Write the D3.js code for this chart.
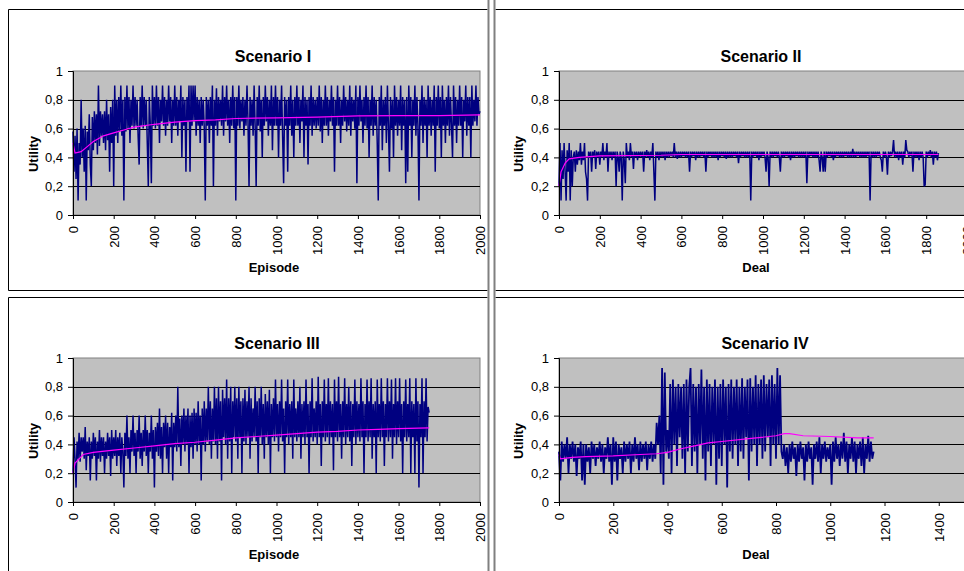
<!DOCTYPE html>
<html>
<head>
<meta charset="utf-8">
<script src="https://cdn.jsdelivr.net/npm/d3@7"></script>
<style>
  body { margin: 0; background: #fff; }
  svg { display: block; font-family: Arial, "Liberation Sans", sans-serif; }
</style>
</head>
<body>
<script>
// values, one point per 5 episodes / deals
const yTicks = [0, 0.2, 0.4, 0.6, 0.8, 1];
const gridTicks = [0.2, 0.4, 0.6, 0.8];
const xTicks2000 = [0, 200, 400, 600, 800, 1000, 1200, 1400, 1600, 1800, 2000];
const xTicks1600 = [0, 200, 400, 600, 800, 1000, 1200, 1400, 1600];
const titles = ["Scenario I", "Scenario II", "Scenario III", "Scenario IV"];
const xTitles = ["Episode", "Deal", "Episode", "Deal"];
const step = 5;

const utility1 = [
  0.58, 0.30, 0.55, 0.25, 0.60, 0.10, 0.50, 0.35, 0.80, 0.40,
  0.60, 0.30, 0.62, 0.10, 0.58, 0.45, 0.70, 0.35, 0.20, 0.68,
  0.45, 0.72, 0.50, 0.70, 0.42, 0.90, 0.48, 0.72, 0.55, 0.70,
  0.50, 0.72, 0.45, 0.80, 0.52, 0.70, 0.30, 0.75, 0.50, 0.80,
  0.20, 0.90, 0.55, 0.80, 0.50, 0.82, 0.58, 0.90, 0.55, 0.80,
  0.10, 0.82, 0.58, 0.90, 0.60, 0.82, 0.50, 0.80, 0.62, 0.90,
  0.60, 0.82, 0.62, 0.80, 0.55, 0.35, 0.82, 0.62, 0.90, 0.60,
  0.82, 0.62, 0.80, 0.50, 0.20, 0.82, 0.62, 0.22, 0.90, 0.62,
  0.82, 0.60, 0.90, 0.62, 0.82, 0.50, 0.80, 0.65, 0.90, 0.62,
  0.82, 0.55, 0.80, 0.62, 0.90, 0.65, 0.82, 0.50, 0.80, 0.62,
  0.90, 0.62, 0.82, 0.55, 0.80, 0.65, 0.90, 0.40, 0.82, 0.62,
  0.80, 0.30, 0.82, 0.65, 0.90, 0.30, 0.90, 0.62, 0.90, 0.65,
  0.90, 0.55, 0.82, 0.62, 0.80, 0.50, 0.82, 0.62, 0.80, 0.60,
  0.10, 0.82, 0.62, 0.80, 0.50, 0.82, 0.62, 0.90, 0.20, 0.80,
  0.62, 0.88, 0.55, 0.82, 0.65, 0.80, 0.62, 0.90, 0.55, 0.82,
  0.65, 0.90, 0.62, 0.80, 0.50, 0.82, 0.62, 0.90, 0.60, 0.82,
  0.10, 0.82, 0.62, 0.90, 0.60, 0.80, 0.65, 0.82, 0.55, 0.80,
  0.62, 0.90, 0.65, 0.20, 0.82, 0.62, 0.80, 0.55, 0.90, 0.62,
  0.20, 0.82, 0.62, 0.90, 0.58, 0.80, 0.40, 0.82, 0.62, 0.90,
  0.65, 0.82, 0.55, 0.80, 0.62, 0.90, 0.45, 0.82, 0.62, 0.90,
  0.62, 0.82, 0.40, 0.80, 0.62, 0.90, 0.55, 0.22, 0.82, 0.62,
  0.80, 0.30, 0.82, 0.62, 0.90, 0.55, 0.80, 0.40, 0.82, 0.62,
  0.90, 0.62, 0.82, 0.50, 0.80, 0.65, 0.90, 0.40, 0.82, 0.62,
  0.80, 0.35, 0.82, 0.62, 0.90, 0.55, 0.82, 0.62, 0.80, 0.60,
  0.82, 0.62, 0.90, 0.58, 0.82, 0.50, 0.80, 0.62, 0.90, 0.62,
  0.82, 0.55, 0.80, 0.65, 0.90, 0.62, 0.82, 0.30, 0.80, 0.62,
  0.90, 0.62, 0.82, 0.50, 0.80, 0.62, 0.90, 0.65, 0.82, 0.58,
  0.80, 0.62, 0.90, 0.55, 0.82, 0.65, 0.80, 0.60, 0.90, 0.22,
  0.82, 0.62, 0.90, 0.65, 0.80, 0.50, 0.82, 0.62, 0.90, 0.60,
  0.82, 0.40, 0.80, 0.62, 0.90, 0.55, 0.82, 0.62, 0.80, 0.50,
  0.10, 0.82, 0.62, 0.90, 0.45, 0.80, 0.62, 0.82, 0.50, 0.90,
  0.62, 0.30, 0.82, 0.60, 0.80, 0.40, 0.90, 0.62, 0.82, 0.55,
  0.80, 0.62, 0.90, 0.45, 0.82, 0.62, 0.80, 0.22, 0.82, 0.30,
  0.90, 0.62, 0.82, 0.40, 0.80, 0.62, 0.90, 0.55, 0.82, 0.62,
  0.10, 0.80, 0.62, 0.90, 0.50, 0.82, 0.62, 0.80, 0.40, 0.90,
  0.62, 0.82, 0.55, 0.80, 0.62, 0.90, 0.30, 0.82, 0.62, 0.90,
  0.60, 0.82, 0.40, 0.90, 0.62, 0.80, 0.50, 0.82, 0.62, 0.90,
  0.55, 0.82, 0.62, 0.40, 0.90, 0.62, 0.82, 0.50, 0.80, 0.62,
  0.90, 0.62, 0.82, 0.40, 0.80, 0.65, 0.90, 0.55, 0.82, 0.62,
  0.82, 0.40, 0.90, 0.62, 0.80, 0.65, 0.90, 0.62, 0.82, 0.70,
  0.72
];
const avgX1 = [0, 10, 40, 70, 100, 150, 200, 250, 300, 400, 500, 600, 700, 800, 1000, 1200, 1400, 1600, 1800, 2000];
const avg1 = [0.50, 0.43, 0.44, 0.475, 0.51, 0.55, 0.57, 0.59, 0.61, 0.63, 0.645, 0.655, 0.66, 0.67, 0.675, 0.68, 0.688, 0.69, 0.69, 0.695];

const utility2 = [
  0.20, 0.50, 0.10, 0.45, 0.25, 0.50, 0.30, 0.10, 0.45, 0.30,
  0.50, 0.10, 0.45, 0.20, 0.40, 0.44, 0.30, 0.45, 0.35, 0.44,
  0.38, 0.50, 0.35, 0.44, 0.38, 0.50, 0.30, 0.25, 0.10, 0.44,
  0.40, 0.44, 0.30, 0.44, 0.40, 0.45, 0.32, 0.44, 0.40, 0.44,
  0.35, 0.44, 0.40, 0.50, 0.38, 0.44, 0.40, 0.50, 0.30, 0.44,
  0.40, 0.44, 0.38, 0.44, 0.40, 0.44, 0.20, 0.44, 0.40, 0.30,
  0.44, 0.40, 0.10, 0.44, 0.38, 0.22, 0.50, 0.40, 0.44, 0.38,
  0.50, 0.40, 0.44, 0.32, 0.44, 0.40, 0.44, 0.38, 0.44, 0.40,
  0.44, 0.40, 0.44, 0.30, 0.44, 0.40, 0.45, 0.40, 0.44, 0.38,
  0.44, 0.40, 0.50, 0.30, 0.10, 0.44, 0.40, 0.44, 0.38, 0.44,
  0.40, 0.44, 0.40, 0.44, 0.38, 0.44, 0.40, 0.44, 0.40, 0.44,
  0.41, 0.44, 0.40, 0.50, 0.40, 0.44, 0.39, 0.44, 0.40, 0.44,
  0.40, 0.44, 0.41, 0.44, 0.40, 0.44, 0.40, 0.44, 0.30, 0.44,
  0.40, 0.44, 0.41, 0.44, 0.38, 0.44, 0.40, 0.44, 0.40, 0.44,
  0.41, 0.44, 0.40, 0.44, 0.30, 0.44, 0.40, 0.44, 0.41, 0.44,
  0.40, 0.44, 0.40, 0.44, 0.40, 0.44, 0.38, 0.44, 0.40, 0.44,
  0.41, 0.44, 0.40, 0.44, 0.39, 0.44, 0.40, 0.44, 0.40, 0.44,
  0.40, 0.44, 0.41, 0.44, 0.40, 0.44, 0.36, 0.44, 0.40, 0.44,
  0.41, 0.44, 0.40, 0.44, 0.40, 0.44, 0.40, 0.44, 0.10, 0.44,
  0.40, 0.44, 0.41, 0.44, 0.40, 0.44, 0.38, 0.44, 0.40, 0.44,
  0.41, 0.44, 0.40, 0.30, 0.44, 0.40, 0.20, 0.44, 0.40, 0.44,
  0.40, 0.44, 0.41, 0.44, 0.40, 0.44, 0.40, 0.30, 0.44, 0.40,
  0.44, 0.40, 0.44, 0.41, 0.44, 0.40, 0.44, 0.38, 0.44, 0.40,
  0.44, 0.40, 0.44, 0.41, 0.44, 0.40, 0.44, 0.40, 0.44, 0.40,
  0.44, 0.40, 0.44, 0.22, 0.44, 0.40, 0.44, 0.41, 0.44, 0.40,
  0.44, 0.40, 0.44, 0.40, 0.44, 0.38, 0.30, 0.44, 0.40, 0.30,
  0.44, 0.30, 0.44, 0.40, 0.44, 0.41, 0.44, 0.40, 0.44, 0.38,
  0.44, 0.40, 0.44, 0.41, 0.44, 0.40, 0.44, 0.40, 0.44, 0.40,
  0.44, 0.41, 0.44, 0.40, 0.44, 0.40, 0.44, 0.40, 0.46, 0.40,
  0.44, 0.40, 0.44, 0.41, 0.44, 0.40, 0.44, 0.40, 0.44, 0.40,
  0.44, 0.40, 0.44, 0.41, 0.44, 0.10, 0.44, 0.40, 0.44, 0.40,
  0.44, 0.40, 0.44, 0.41, 0.44, 0.40, 0.38, 0.30, 0.44, 0.40,
  0.44, 0.40, 0.28, 0.44, 0.40, 0.44, 0.41, 0.44, 0.52, 0.40,
  0.44, 0.40, 0.44, 0.38, 0.44, 0.40, 0.44, 0.35, 0.44, 0.40,
  0.52, 0.45, 0.44, 0.40, 0.44, 0.41, 0.44, 0.30, 0.44, 0.40,
  0.44, 0.40, 0.44, 0.38, 0.44, 0.40, 0.44, 0.40, 0.20, 0.21,
  0.44, 0.40, 0.44, 0.41, 0.45, 0.40, 0.44, 0.35, 0.44, 0.40,
  0.44, 0.38, 0.43
];
const avgX2 = [0, 10, 30, 50, 100, 200, 500, 600, 1000, 1860];
const avg2 = [0.20, 0.30, 0.36, 0.39, 0.40, 0.41, 0.415, 0.42, 0.42, 0.42];

const utility3 = [
  0.20, 0.45, 0.30, 0.10, 0.42, 0.30, 0.48, 0.28, 0.45, 0.35,
  0.45, 0.30, 0.52, 0.22, 0.42, 0.32, 0.45, 0.15, 0.42, 0.30,
  0.48, 0.32, 0.45, 0.15, 0.42, 0.30, 0.50, 0.28, 0.45, 0.32,
  0.45, 0.20, 0.42, 0.30, 0.48, 0.32, 0.45, 0.18, 0.50, 0.30,
  0.45, 0.32, 0.50, 0.25, 0.45, 0.32, 0.48, 0.20, 0.45, 0.35,
  0.10, 0.48, 0.32, 0.60, 0.30, 0.45, 0.20, 0.50, 0.35, 0.60,
  0.32, 0.48, 0.20, 0.50, 0.35, 0.60, 0.30, 0.48, 0.25, 0.50,
  0.35, 0.60, 0.32, 0.50, 0.20, 0.48, 0.35, 0.60, 0.30, 0.50,
  0.10, 0.52, 0.35, 0.55, 0.32, 0.65, 0.30, 0.52, 0.20, 0.55,
  0.38, 0.60, 0.30, 0.55, 0.20, 0.52, 0.38, 0.62, 0.15, 0.55,
  0.38, 0.60, 0.35, 0.80, 0.38, 0.58, 0.25, 0.60, 0.40, 0.65,
  0.35, 0.60, 0.40, 0.65, 0.20, 0.60, 0.38, 0.62, 0.30, 0.65,
  0.40, 0.62, 0.35, 0.70, 0.40, 0.60, 0.15, 0.65, 0.40, 0.70,
  0.35, 0.65, 0.42, 0.80, 0.40, 0.70, 0.30, 0.65, 0.42, 0.80,
  0.40, 0.72, 0.30, 0.80, 0.42, 0.70, 0.15, 0.78, 0.45, 0.72,
  0.40, 0.85, 0.30, 0.72, 0.42, 0.80, 0.20, 0.70, 0.45, 0.80,
  0.42, 0.72, 0.30, 0.80, 0.45, 0.70, 0.20, 0.72, 0.42, 0.78,
  0.40, 0.70, 0.45, 0.80, 0.30, 0.72, 0.42, 0.65, 0.45, 0.80,
  0.42, 0.70, 0.20, 0.72, 0.45, 0.80, 0.40, 0.68, 0.30, 0.75,
  0.45, 0.70, 0.40, 0.78, 0.20, 0.68, 0.45, 0.72, 0.42, 0.85,
  0.45, 0.68, 0.35, 0.70, 0.45, 0.85, 0.42, 0.65, 0.20, 0.70,
  0.45, 0.85, 0.40, 0.68, 0.45, 0.70, 0.30, 0.85, 0.45, 0.65,
  0.42, 0.70, 0.45, 0.80, 0.30, 0.68, 0.45, 0.70, 0.40, 0.85,
  0.45, 0.68, 0.20, 0.70, 0.45, 0.86, 0.42, 0.65, 0.45, 0.70,
  0.40, 0.87, 0.45, 0.68, 0.25, 0.70, 0.45, 0.85, 0.42, 0.68,
  0.45, 0.86, 0.40, 0.70, 0.45, 0.68, 0.22, 0.85, 0.45, 0.70,
  0.42, 0.87, 0.45, 0.68, 0.30, 0.70, 0.45, 0.86, 0.40, 0.68,
  0.45, 0.80, 0.42, 0.70, 0.25, 0.68, 0.45, 0.85, 0.40, 0.70,
  0.45, 0.68, 0.42, 0.86, 0.45, 0.70, 0.20, 0.68, 0.45, 0.85,
  0.42, 0.70, 0.45, 0.86, 0.30, 0.68, 0.45, 0.70, 0.20, 0.85,
  0.45, 0.68, 0.42, 0.86, 0.45, 0.70, 0.25, 0.68, 0.45, 0.86,
  0.42, 0.70, 0.45, 0.85, 0.30, 0.68, 0.45, 0.86, 0.40, 0.70,
  0.45, 0.86, 0.42, 0.68, 0.20, 0.70, 0.45, 0.85, 0.42, 0.68,
  0.45, 0.86, 0.20, 0.70, 0.45, 0.68, 0.20, 0.86, 0.42, 0.70,
  0.10, 0.68, 0.45, 0.86, 0.20, 0.70, 0.45, 0.86, 0.42, 0.66,
  0.62
];
const avgX3 = [0, 10, 30, 50, 100, 200, 300, 400, 500, 600, 700, 800, 900, 1000, 1100, 1200, 1300, 1400, 1500, 1600, 1750];
const avg3 = [0.20, 0.27, 0.30, 0.33, 0.345, 0.36, 0.375, 0.39, 0.405, 0.415, 0.43, 0.445, 0.455, 0.465, 0.475, 0.485, 0.49, 0.50, 0.505, 0.51, 0.515];

const utility4 = [
  0.35, 0.15, 0.42, 0.28, 0.40, 0.30, 0.45, 0.20, 0.40, 0.30,
  0.42, 0.28, 0.40, 0.18, 0.38, 0.30, 0.42, 0.15, 0.40, 0.12,
  0.40, 0.28, 0.38, 0.20, 0.42, 0.30, 0.40, 0.25, 0.38, 0.30,
  0.42, 0.28, 0.40, 0.20, 0.38, 0.30, 0.45, 0.28, 0.40, 0.12,
  0.45, 0.28, 0.42, 0.15, 0.40, 0.30, 0.38, 0.20, 0.42, 0.28,
  0.40, 0.30, 0.42, 0.20, 0.40, 0.28, 0.45, 0.30, 0.40, 0.22,
  0.42, 0.28, 0.40, 0.30, 0.42, 0.22, 0.40, 0.30, 0.42, 0.28,
  0.40, 0.30, 0.55, 0.40, 0.60, 0.20, 0.93, 0.12, 0.90, 0.35,
  0.50, 0.30, 0.82, 0.20, 0.85, 0.40, 0.80, 0.25, 0.82, 0.45,
  0.80, 0.30, 0.82, 0.20, 0.85, 0.35, 0.80, 0.93, 0.25, 0.82,
  0.35, 0.80, 0.20, 0.82, 0.40, 0.92, 0.30, 0.80, 0.15, 0.85,
  0.35, 0.82, 0.25, 0.80, 0.40, 0.85, 0.12, 0.80, 0.30, 0.82,
  0.25, 0.85, 0.40, 0.80, 0.10, 0.82, 0.35, 0.85, 0.30, 0.80,
  0.40, 0.85, 0.25, 0.80, 0.35, 0.86, 0.30, 0.80, 0.45, 0.85,
  0.15, 0.86, 0.35, 0.80, 0.40, 0.88, 0.25, 0.82, 0.40, 0.85,
  0.30, 0.88, 0.35, 0.82, 0.45, 0.85, 0.25, 0.88, 0.40, 0.82,
  0.30, 0.93, 0.40, 0.88, 0.35, 0.30, 0.40, 0.25, 0.38, 0.20,
  0.40, 0.28, 0.42, 0.30, 0.38, 0.18, 0.40, 0.28, 0.42, 0.30,
  0.38, 0.15, 0.40, 0.28, 0.42, 0.30, 0.38, 0.12, 0.40, 0.30,
  0.42, 0.28, 0.45, 0.20, 0.40, 0.30, 0.42, 0.28, 0.38, 0.30,
  0.40, 0.12, 0.42, 0.28, 0.45, 0.30, 0.40, 0.25, 0.42, 0.30,
  0.48, 0.28, 0.42, 0.20, 0.40, 0.30, 0.45, 0.28, 0.42, 0.20,
  0.40, 0.30, 0.42, 0.25, 0.45, 0.20, 0.40, 0.30, 0.46, 0.28,
  0.42, 0.30, 0.35
];
const avgX4 = [0, 5, 50, 100, 200, 300, 360, 400, 450, 500, 550, 600, 700, 800, 830, 850, 900, 1000, 1100, 1160];
const avg4 = [0.33, 0.30, 0.31, 0.315, 0.32, 0.33, 0.335, 0.345, 0.37, 0.39, 0.41, 0.42, 0.44, 0.46, 0.475, 0.475, 0.46, 0.455, 0.445, 0.445];

const width = 964, height = 571;

const svg = d3.select("body").append("svg")
  .attr("width", width)
  .attr("height", height);

svg.append("rect").attr("width", width).attr("height", height).attr("fill", "#fff");

// panel frames
const frame = svg.append("g").attr("fill", "none").attr("stroke", "#000").attr("stroke-width", 1);
frame.append("path").attr("d", "M8.5,600 V297.5 H487.5 M8.5,290.5 V9.5 H487.5 M8.5,290.5 H487.5");
frame.append("path").attr("d", "M495.5,9.5 H970 M495.5,290.5 H970 M495.5,297.5 H970");
svg.append("rect").attr("x", 487.5).attr("y", 0).attr("width", 2).attr("height", height).attr("fill", "#808080");
svg.append("rect").attr("x", 493.5).attr("y", 0).attr("width", 2).attr("height", height).attr("fill", "#808080");

const panels = [
  { values: utility1, avgX: avgX1, avg: avg1, xr: [73, 480], yr: [215, 71], dom: 2000, ticks: xTicks2000, sw: 1.5,
    titleX: 273, titleY: 62, xtX: 274, xtY: 272, ytX: 33, ytY: 154 },
  { values: utility2, avgX: avgX2, avg: avg2, xr: [559, 967], yr: [215, 71], dom: 2000, ticks: xTicks2000, sw: 1.5,
    titleX: 761, titleY: 62, xtX: 756, xtY: 272, ytX: 518, ytY: 154 },
  { values: utility3, avgX: avgX3, avg: avg3, xr: [73, 480], yr: [502, 358], dom: 2000, ticks: xTicks2000, sw: 1.5,
    titleX: 277, titleY: 349, xtX: 274, xtY: 559, ytX: 33, ytY: 441 },
  { values: utility4, avgX: avgX4, avg: avg4, xr: [559, 993], yr: [502, 358], dom: 1600, ticks: xTicks1600, sw: 1.8,
    titleX: 765, titleY: 349, xtX: 756, xtY: 559, ytX: 518, ytY: 441 }
];

const fmt = d => String(d).replace(".", ",");

panels.forEach(function (p, k) {
  const x = d3.scaleLinear().domain([0, p.dom]).range(p.xr);
  const y = d3.scaleLinear().domain([0, 1]).range(p.yr);
  const g = svg.append("g");

  // plot area
  g.append("rect")
    .attr("x", p.xr[0]).attr("y", p.yr[1])
    .attr("width", p.xr[1] - p.xr[0]).attr("height", p.yr[0] - p.yr[1])
    .attr("fill", "#c0c0c0")
    .attr("stroke", "#808080");

  g.selectAll("line.grid")
    .data(gridTicks)
    .enter()
    .append("line")
    .attr("class", "grid")
    .attr("x1", p.xr[0]).attr("x2", p.xr[1])
    .attr("y1", d => Math.round(y(d)) + 0.5).attr("y2", d => Math.round(y(d)) + 0.5)
    .attr("stroke", "#000");

  // series
  const line = d3.line()
    .x((d, i) => x(i * step))
    .y(d => y(d));
  g.append("path")
    .datum(p.values)
    .attr("d", line)
    .attr("fill", "none")
    .attr("stroke", "#000080")
    .attr("stroke-width", p.sw)
    .attr("stroke-linejoin", "bevel");

  const avgLine = d3.line()
    .x((d, i) => x(p.avgX[i]))
    .y(d => y(d));
  g.append("path")
    .datum(p.avg)
    .attr("d", avgLine)
    .attr("fill", "none")
    .attr("stroke", "#ff00ff")
    .attr("stroke-width", 1.2);

  // axes
  const yAxis = g.append("g")
    .attr("transform", `translate(${p.xr[0]},0)`)
    .call(d3.axisLeft(y).tickValues(yTicks).tickSize(5).tickPadding(5).tickFormat(fmt));
  yAxis.select(".domain").attr("stroke", "#000");
  yAxis.selectAll("text").attr("font-size", 13).attr("font-family", "Arial, 'Liberation Sans', sans-serif").attr("fill", "#000");

  const xAxis = g.append("g")
    .attr("transform", `translate(0,${p.yr[0]})`)
    .call(d3.axisBottom(x).tickValues(p.ticks).tickSize(4).tickSizeOuter(0).tickFormat(d => d));
  xAxis.select(".domain").attr("stroke", "#000");
  xAxis.selectAll("text")
    .attr("transform", "rotate(-90)")
    .attr("text-anchor", "end")
    .attr("x", -11)
    .attr("y", 0)
    .attr("dy", "0.35em")
    .attr("font-size", 13)
    .attr("font-family", "Arial, 'Liberation Sans', sans-serif")
    .attr("fill", "#000");

  // titles
  g.append("text")
    .attr("x", p.titleX).attr("y", p.titleY)
    .attr("text-anchor", "middle")
    .attr("font-size", 16).attr("font-weight", "bold")
    .text(titles[k]);
  g.append("text")
    .attr("x", p.xtX).attr("y", p.xtY)
    .attr("text-anchor", "middle")
    .attr("font-size", 13).attr("font-weight", "bold")
    .text(xTitles[k]);
  g.append("text")
    .attr("transform", `translate(${p.ytX},${p.ytY}) rotate(-90)`)
    .attr("text-anchor", "middle")
    .attr("dy", "0.35em")
    .attr("font-size", 13).attr("font-weight", "bold")
    .text("Utility");
});
</script>
</body>
</html>
